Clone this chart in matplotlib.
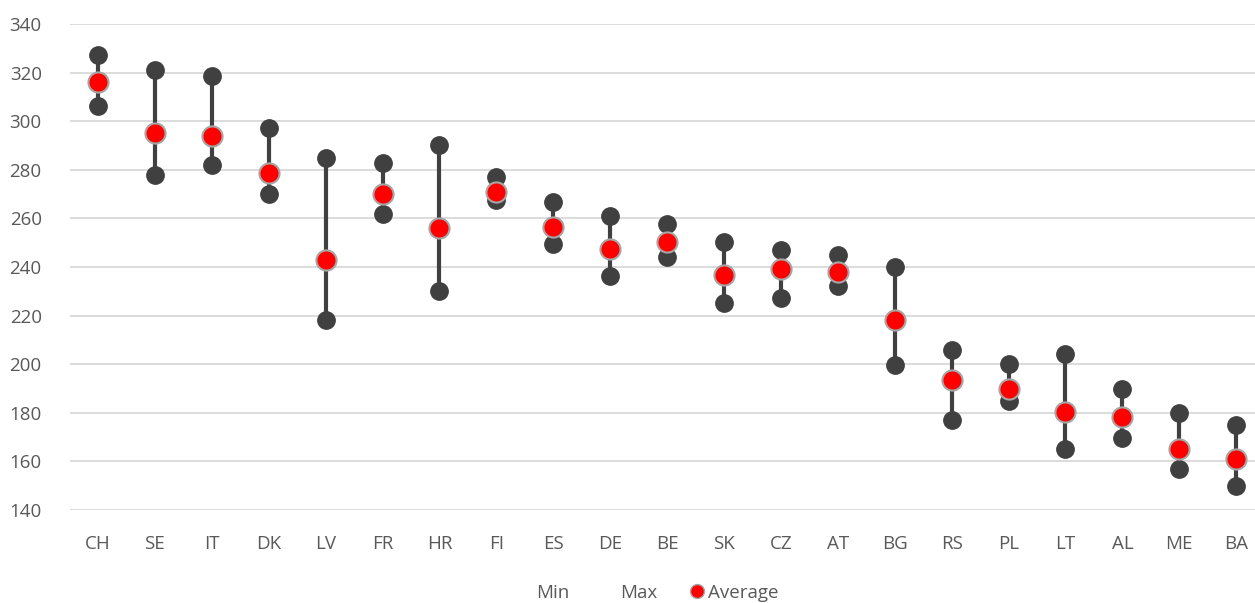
import matplotlib.pyplot as plt
from matplotlib.lines import Line2D

# データ
countries = ["CH", "SE", "IT", "DK", "LV", "FR", "HR", "FI", "ES", "DE", "BE",
             "SK", "CZ", "AT", "BG", "RS", "PL", "LT", "AL", "ME", "BA"]
min_vals = [306.4, 278.0, 281.9, 270.0, 218.1, 262.0, 230.2, 267.7, 249.5, 236.5, 244.2,
            225.1, 227.1, 232.0, 199.8, 177.0, 184.9, 165.2, 169.8, 156.8, 150.0]
max_vals = [327.3, 321.0, 318.5, 297.0, 285.0, 282.8, 290.1, 277.2, 266.9, 260.8, 257.6,
            250.1, 247.0, 245.1, 240.0, 206.0, 199.9, 204.2, 189.9, 179.9, 175.0]
avg_vals = [316.3, 295.3, 294.1, 278.8, 243.0, 270.1, 256.0, 271.0, 256.3, 247.6, 250.4,
            236.8, 239.2, 238.0, 218.2, 193.7, 189.6, 180.5, 178.1, 165.2, 160.8]

plt.rcParams["font.family"] = ["Open Sans", "DejaVu Sans"]
text_color = "#595959"
dark = "#404040"

fig = plt.figure(figsize=(12.55, 6.03), dpi=100)
ax = fig.add_axes([69.5 / 1255, 1 - 510 / 603, (1255 - 69.5) / 1255, 486 / 603])

x = range(len(countries))

# 縦線（Min〜Max）
ax.vlines(x, min_vals, max_vals, color=dark, linewidth=3, zorder=2)
ax.plot(x, min_vals, "o", color=dark, markersize=12.5, linestyle="none", zorder=3)
ax.plot(x, max_vals, "o", color=dark, markersize=12.5, linestyle="none", zorder=3)
ax.plot(x, avg_vals, "o", color="#ff0000", markeredgecolor="#a6a6a6",
        markeredgewidth=1.5, markersize=14.5, linestyle="none", zorder=4)

ax.set_ylim(140, 340)
ax.set_yticks(range(140, 341, 20))
ax.set_xlim(-0.5, 20.33)
ax.set_xticks(list(x))
ax.set_xticklabels(countries)

ax.grid(axis="y", color="#d9d9d9", linewidth=1.3)
ax.set_axisbelow(True)
for s in ax.spines.values():
    s.set_visible(False)
ax.tick_params(axis="both", length=0, labelsize=13.5, labelcolor=text_color)
ax.tick_params(axis="x", pad=18)
ax.tick_params(axis="y", pad=20)

# 凡例
handles = [
    Line2D([], [], linestyle="none", marker="none"),
    Line2D([], [], linestyle="none", marker="none"),
    Line2D([], [], linestyle="none", marker="o", markerfacecolor="#ff0000",
           markeredgecolor="#a6a6a6", markersize=10),
]
fig.legend(handles, ["Min", "Max", "Average"], loc="center",
           bbox_to_anchor=(648 / 1255, 1 - 593 / 603), ncol=3, frameon=False,
           fontsize=13.5, labelcolor=text_color, handlelength=0.8,
           handletextpad=0.2, columnspacing=1.7)

plt.savefig("out.png", dpi=100)
